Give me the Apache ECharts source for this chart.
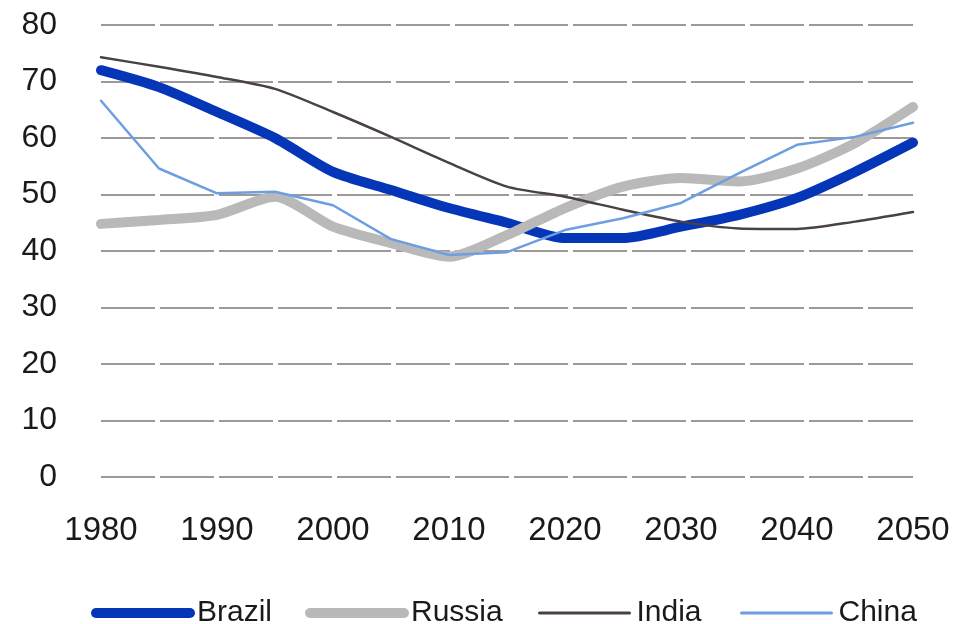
<!DOCTYPE html>
<html>
<head>
<meta charset="utf-8">
<script src="https://cdn.jsdelivr.net/npm/echarts@6/dist/echarts.min.js"></script>
<style>html,body{margin:0;padding:0;background:#fff}#c{width:958px;height:624px}</style>
</head>
<body>
<div id="c"></div>
<script>
const years = [1980,1985,1990,1995,2000,2005,2010,2015,2020,2025,2030,2035,2040,2045,2050];
const brazil = [72.0,69.0,64.6,60.0,54.0,50.8,47.6,45.0,42.3,42.3,44.3,46.4,49.4,54.0,59.2];
const russia = [44.8,45.5,46.4,49.6,44.3,41.4,39.0,42.8,47.6,51.4,52.9,52.3,54.6,59.1,65.5];
const india  = [74.3,72.6,70.8,68.7,64.6,60.2,55.6,51.4,49.6,47.3,45.2,44.0,43.9,45.2,46.9];
const china  = [66.6,54.6,50.2,50.5,48.1,42.1,39.3,39.8,43.7,45.8,48.5,53.8,58.8,60.2,62.7];
const yTicks = [0,10,20,30,40,50,60,70,80];
const names = ['Brazil','Russia','India','China'];

const colors = ['#0536b8','#b9b9b9','#4a4242','#6d9fe0'];
const widths = [10,10,2.5,2.5];
const legendLeft = [86,300,533,735];
const pairs = arr => years.map((y,i)=>[y,arr[i]]);
const font = 'Liberation Sans, Arial, sans-serif';
const chart = echarts.init(document.getElementById('c'));
const seriesData = [brazil,russia,india,china];
chart.setOption({
  animation:false,
  backgroundColor:'#fff',
  grid:{left:101,right:45,top:25,bottom:147,containLabel:false},
  xAxis:{type:'value',min:1980,max:2050,interval:10,
    axisLine:{show:false},axisTick:{show:false},splitLine:{show:false},
    axisLabel:{fontSize:33,color:'#1a1a1a',fontFamily:font,margin:37,formatter:v=>String(v)}},
  yAxis:{type:'value',min:yTicks[0],max:yTicks[yTicks.length-1],interval:10,
    axisLine:{show:false},axisTick:{show:false},
    axisLabel:{fontSize:32,color:'#1a1a1a',fontFamily:font,margin:44},
    splitLine:{show:true,lineStyle:{color:'#7d7878',width:1.5,type:[54,5]}}},
  legend:names.map((n,i)=>({left:legendLeft[i],top:593,itemWidth:i<2?94:90,itemHeight:14,itemGap:0,
    textStyle:{fontSize:30,color:'#1a1a1a',fontFamily:font,padding:[0,0,0,2]},
    itemStyle:{opacity:0},
    data:[{name:n,lineStyle:{width:widths[i]+(i<2?0:0.5),cap:'round',color:colors[i]}}]})),
  series:names.map((n,i)=>({name:n,type:'line',data:pairs(seriesData[i]),symbol:'none',
    smooth:i<3?0.25:false,
    lineStyle:{color:colors[i],width:widths[i],cap:'round'},itemStyle:{color:colors[i]}}))
});
</script>
</body>
</html>
